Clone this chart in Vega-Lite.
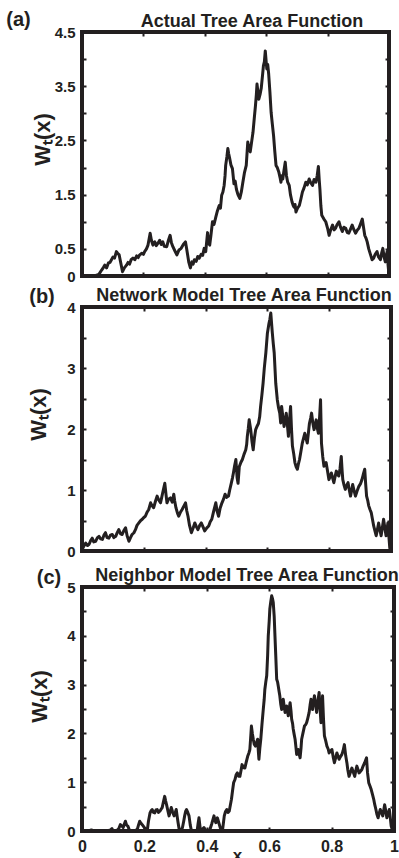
{
  "$schema": "https://vega.github.io/schema/vega-lite/v6.json",
  "autosize": {"type": "none"},
  "padding": {"left": 82, "top": 32, "right": 317, "bottom": 826},
  "background": "white",
  "config": {
    "view": {"stroke": "#231f20", "strokeWidth": 4},
    "line": {"strokeJoin": "round"},
    "axis": {
      "domain": false, "grid": false, "ticks": true, "tickSize": -4, "tickWidth": 2, "tickColor": "#231f20",
      "labelFont": "Liberation Sans", "labelFontWeight": "bold", "labelColor": "#231f20",
      "titleFont": "Liberation Sans", "titleFontWeight": "bold", "titleColor": "#231f20",
      "labelOverlap": false, "labelFlush": false, "labelBound": false
    }
  },
  "datasets": {
    "a": [
      {"x":0,"y":0},{"x":0.02,"y":0.01},{"x":0.04,"y":0},{"x":0.055,"y":0.03},{"x":0.064,"y":0.11},{"x":0.07,"y":0.16},{"x":0.074,"y":0.2},{"x":0.08,"y":0.15},{"x":0.086,"y":0.24},{"x":0.091,"y":0.25},{"x":0.096,"y":0.3},{"x":0.101,"y":0.35},{"x":0.106,"y":0.33},{"x":0.112,"y":0.45},{"x":0.116,"y":0.42},{"x":0.121,"y":0.39},{"x":0.126,"y":0.25},{"x":0.132,"y":0.08},{"x":0.138,"y":0.15},{"x":0.145,"y":0.2},{"x":0.15,"y":0.25},{"x":0.155,"y":0.22},{"x":0.16,"y":0.3},{"x":0.166,"y":0.33},{"x":0.172,"y":0.3},{"x":0.178,"y":0.37},{"x":0.183,"y":0.34},{"x":0.188,"y":0.39},{"x":0.195,"y":0.42},{"x":0.2,"y":0.4},{"x":0.204,"y":0.45},{"x":0.21,"y":0.5},{"x":0.215,"y":0.57},{"x":0.222,"y":0.79},{"x":0.226,"y":0.66},{"x":0.231,"y":0.57},{"x":0.237,"y":0.63},{"x":0.242,"y":0.56},{"x":0.247,"y":0.6},{"x":0.253,"y":0.66},{"x":0.258,"y":0.58},{"x":0.263,"y":0.63},{"x":0.268,"y":0.55},{"x":0.276,"y":0.54},{"x":0.281,"y":0.65},{"x":0.287,"y":0.75},{"x":0.291,"y":0.62},{"x":0.296,"y":0.54},{"x":0.302,"y":0.47},{"x":0.309,"y":0.39},{"x":0.316,"y":0.48},{"x":0.323,"y":0.51},{"x":0.33,"y":0.58},{"x":0.337,"y":0.63},{"x":0.341,"y":0.5},{"x":0.344,"y":0.39},{"x":0.348,"y":0.25},{"x":0.353,"y":0.15},{"x":0.358,"y":0.26},{"x":0.362,"y":0.22},{"x":0.366,"y":0.3},{"x":0.372,"y":0.27},{"x":0.377,"y":0.36},{"x":0.382,"y":0.33},{"x":0.388,"y":0.4},{"x":0.393,"y":0.38},{"x":0.398,"y":0.51},{"x":0.403,"y":0.45},{"x":0.409,"y":0.8},{"x":0.413,"y":0.6},{"x":0.416,"y":0.57},{"x":0.42,"y":0.75},{"x":0.425,"y":1.0},{"x":0.43,"y":0.95},{"x":0.436,"y":1.09},{"x":0.441,"y":1.2},{"x":0.447,"y":1.3},{"x":0.451,"y":1.25},{"x":0.455,"y":1.49},{"x":0.459,"y":1.55},{"x":0.463,"y":1.67},{"x":0.466,"y":1.85},{"x":0.468,"y":2.04},{"x":0.472,"y":2.2},{"x":0.475,"y":2.35},{"x":0.478,"y":2.25},{"x":0.481,"y":2.17},{"x":0.485,"y":2.05},{"x":0.49,"y":1.98},{"x":0.495,"y":1.7},{"x":0.499,"y":1.75},{"x":0.503,"y":1.6},{"x":0.508,"y":1.5},{"x":0.514,"y":1.43},{"x":0.519,"y":1.55},{"x":0.524,"y":1.73},{"x":0.529,"y":1.9},{"x":0.535,"y":2.04},{"x":0.538,"y":2.3},{"x":0.54,"y":2.47},{"x":0.544,"y":2.35},{"x":0.548,"y":2.29},{"x":0.552,"y":2.45},{"x":0.557,"y":2.65},{"x":0.561,"y":2.9},{"x":0.565,"y":3.14},{"x":0.568,"y":3.35},{"x":0.57,"y":3.54},{"x":0.573,"y":3.4},{"x":0.576,"y":3.26},{"x":0.58,"y":3.35},{"x":0.584,"y":3.47},{"x":0.588,"y":3.7},{"x":0.591,"y":3.88},{"x":0.594,"y":3.95},{"x":0.597,"y":4.15},{"x":0.6,"y":3.95},{"x":0.602,"y":3.82},{"x":0.605,"y":3.9},{"x":0.608,"y":3.73},{"x":0.612,"y":3.4},{"x":0.616,"y":3.02},{"x":0.62,"y":2.8},{"x":0.624,"y":2.59},{"x":0.628,"y":2.3},{"x":0.632,"y":2.04},{"x":0.636,"y":2.0},{"x":0.641,"y":1.92},{"x":0.645,"y":1.82},{"x":0.648,"y":1.73},{"x":0.651,"y":1.85},{"x":0.654,"y":1.79},{"x":0.658,"y":1.95},{"x":0.662,"y":2.1},{"x":0.666,"y":1.85},{"x":0.67,"y":1.73},{"x":0.675,"y":1.67},{"x":0.679,"y":1.5},{"x":0.684,"y":1.37},{"x":0.688,"y":1.3},{"x":0.691,"y":1.27},{"x":0.694,"y":1.32},{"x":0.697,"y":1.18},{"x":0.702,"y":1.25},{"x":0.708,"y":1.3},{"x":0.713,"y":1.42},{"x":0.718,"y":1.55},{"x":0.723,"y":1.62},{"x":0.729,"y":1.73},{"x":0.734,"y":1.68},{"x":0.74,"y":1.79},{"x":0.745,"y":1.72},{"x":0.751,"y":1.67},{"x":0.756,"y":1.78},{"x":0.762,"y":1.73},{"x":0.766,"y":1.85},{"x":0.77,"y":2.02},{"x":0.773,"y":1.75},{"x":0.775,"y":1.6},{"x":0.778,"y":1.3},{"x":0.781,"y":1.12},{"x":0.788,"y":1.05},{"x":0.794,"y":1.0},{"x":0.8,"y":0.88},{"x":0.805,"y":0.75},{"x":0.81,"y":0.85},{"x":0.816,"y":0.94},{"x":0.821,"y":0.85},{"x":0.826,"y":0.88},{"x":0.831,"y":0.95},{"x":0.837,"y":1.0},{"x":0.842,"y":0.9},{"x":0.848,"y":0.82},{"x":0.853,"y":0.9},{"x":0.859,"y":0.88},{"x":0.864,"y":0.8},{"x":0.869,"y":0.79},{"x":0.875,"y":0.87},{"x":0.88,"y":0.94},{"x":0.886,"y":0.85},{"x":0.891,"y":0.79},{"x":0.897,"y":0.85},{"x":0.902,"y":0.88},{"x":0.908,"y":0.97},{"x":0.913,"y":1.05},{"x":0.917,"y":0.9},{"x":0.921,"y":0.75},{"x":0.925,"y":0.7},{"x":0.929,"y":0.63},{"x":0.934,"y":0.5},{"x":0.94,"y":0.39},{"x":0.945,"y":0.3},{"x":0.95,"y":0.33},{"x":0.955,"y":0.4},{"x":0.961,"y":0.45},{"x":0.966,"y":0.35},{"x":0.972,"y":0.3},{"x":0.976,"y":0.42},{"x":0.98,"y":0.51},{"x":0.984,"y":0.35},{"x":0.988,"y":0.26},{"x":0.991,"y":0.38},{"x":0.994,"y":0.45},{"x":0.997,"y":0.2},{"x":1.0,"y":0.02}
    ],
    "b": [
      {"x":0,"y":0.02},{"x":0.006,"y":0.08},{"x":0.012,"y":0.13},{"x":0.018,"y":0.09},{"x":0.023,"y":0.11},{"x":0.028,"y":0.17},{"x":0.033,"y":0.21},{"x":0.038,"y":0.15},{"x":0.044,"y":0.16},{"x":0.05,"y":0.22},{"x":0.055,"y":0.24},{"x":0.06,"y":0.2},{"x":0.066,"y":0.19},{"x":0.071,"y":0.26},{"x":0.076,"y":0.3},{"x":0.081,"y":0.22},{"x":0.087,"y":0.21},{"x":0.092,"y":0.26},{"x":0.098,"y":0.27},{"x":0.103,"y":0.22},{"x":0.109,"y":0.24},{"x":0.114,"y":0.3},{"x":0.119,"y":0.35},{"x":0.125,"y":0.28},{"x":0.13,"y":0.27},{"x":0.135,"y":0.33},{"x":0.141,"y":0.38},{"x":0.146,"y":0.25},{"x":0.152,"y":0.16},{"x":0.157,"y":0.22},{"x":0.162,"y":0.27},{"x":0.168,"y":0.3},{"x":0.173,"y":0.35},{"x":0.178,"y":0.42},{"x":0.184,"y":0.46},{"x":0.19,"y":0.5},{"x":0.195,"y":0.52},{"x":0.2,"y":0.55},{"x":0.205,"y":0.57},{"x":0.21,"y":0.63},{"x":0.216,"y":0.68},{"x":0.222,"y":0.79},{"x":0.227,"y":0.74},{"x":0.232,"y":0.71},{"x":0.238,"y":0.82},{"x":0.243,"y":0.9},{"x":0.248,"y":0.84},{"x":0.254,"y":0.79},{"x":0.258,"y":0.88},{"x":0.261,"y":0.95},{"x":0.268,"y":1.11},{"x":0.272,"y":0.92},{"x":0.275,"y":0.79},{"x":0.28,"y":0.85},{"x":0.286,"y":0.87},{"x":0.292,"y":0.8},{"x":0.297,"y":0.93},{"x":0.3,"y":0.82},{"x":0.304,"y":0.71},{"x":0.309,"y":0.62},{"x":0.313,"y":0.57},{"x":0.318,"y":0.63},{"x":0.324,"y":0.68},{"x":0.33,"y":0.74},{"x":0.335,"y":0.79},{"x":0.339,"y":0.66},{"x":0.343,"y":0.57},{"x":0.348,"y":0.42},{"x":0.354,"y":0.3},{"x":0.36,"y":0.38},{"x":0.365,"y":0.46},{"x":0.37,"y":0.4},{"x":0.375,"y":0.35},{"x":0.381,"y":0.42},{"x":0.386,"y":0.46},{"x":0.392,"y":0.39},{"x":0.397,"y":0.33},{"x":0.404,"y":0.38},{"x":0.41,"y":0.41},{"x":0.415,"y":0.48},{"x":0.42,"y":0.52},{"x":0.426,"y":0.65},{"x":0.433,"y":0.79},{"x":0.437,"y":0.66},{"x":0.442,"y":0.57},{"x":0.447,"y":0.7},{"x":0.453,"y":0.79},{"x":0.458,"y":0.85},{"x":0.463,"y":0.93},{"x":0.468,"y":0.88},{"x":0.474,"y":0.9},{"x":0.478,"y":1.0},{"x":0.483,"y":1.11},{"x":0.487,"y":1.2},{"x":0.49,"y":1.28},{"x":0.494,"y":1.4},{"x":0.498,"y":1.5},{"x":0.502,"y":1.2},{"x":0.505,"y":1.11},{"x":0.509,"y":1.38},{"x":0.514,"y":1.45},{"x":0.519,"y":1.5},{"x":0.524,"y":1.58},{"x":0.53,"y":1.66},{"x":0.533,"y":1.75},{"x":0.535,"y":1.88},{"x":0.538,"y":2.0},{"x":0.541,"y":2.15},{"x":0.546,"y":1.99},{"x":0.55,"y":1.8},{"x":0.554,"y":1.66},{"x":0.558,"y":1.85},{"x":0.562,"y":1.99},{"x":0.567,"y":2.05},{"x":0.571,"y":2.09},{"x":0.575,"y":2.2},{"x":0.578,"y":2.37},{"x":0.582,"y":2.55},{"x":0.586,"y":2.75},{"x":0.59,"y":3.0},{"x":0.595,"y":3.25},{"x":0.6,"y":3.57},{"x":0.605,"y":3.73},{"x":0.608,"y":3.8},{"x":0.611,"y":3.9},{"x":0.614,"y":3.7},{"x":0.616,"y":3.57},{"x":0.619,"y":3.4},{"x":0.622,"y":3.25},{"x":0.625,"y":2.95},{"x":0.627,"y":2.75},{"x":0.632,"y":2.48},{"x":0.636,"y":2.35},{"x":0.64,"y":2.26},{"x":0.643,"y":2.1},{"x":0.646,"y":2.37},{"x":0.65,"y":2.2},{"x":0.654,"y":2.04},{"x":0.658,"y":2.15},{"x":0.661,"y":2.26},{"x":0.665,"y":2.05},{"x":0.668,"y":1.88},{"x":0.671,"y":2.1},{"x":0.675,"y":2.37},{"x":0.678,"y":2.0},{"x":0.681,"y":1.72},{"x":0.685,"y":1.6},{"x":0.689,"y":1.45},{"x":0.693,"y":1.38},{"x":0.697,"y":1.34},{"x":0.7,"y":1.42},{"x":0.704,"y":1.5},{"x":0.708,"y":1.62},{"x":0.713,"y":1.77},{"x":0.717,"y":1.85},{"x":0.721,"y":1.93},{"x":0.725,"y":1.85},{"x":0.729,"y":1.77},{"x":0.733,"y":1.95},{"x":0.736,"y":2.09},{"x":0.74,"y":2.18},{"x":0.743,"y":2.26},{"x":0.747,"y":2.1},{"x":0.751,"y":1.99},{"x":0.755,"y":2.08},{"x":0.758,"y":2.15},{"x":0.762,"y":2.0},{"x":0.765,"y":1.93},{"x":0.769,"y":2.2},{"x":0.772,"y":2.48},{"x":0.775,"y":1.77},{"x":0.779,"y":1.55},{"x":0.783,"y":1.39},{"x":0.787,"y":1.42},{"x":0.79,"y":1.45},{"x":0.795,"y":1.3},{"x":0.799,"y":1.17},{"x":0.803,"y":1.22},{"x":0.807,"y":1.28},{"x":0.811,"y":1.2},{"x":0.815,"y":1.12},{"x":0.819,"y":1.22},{"x":0.823,"y":1.31},{"x":0.827,"y":1.25},{"x":0.831,"y":1.23},{"x":0.835,"y":1.35},{"x":0.839,"y":1.55},{"x":0.842,"y":1.3},{"x":0.844,"y":1.17},{"x":0.848,"y":1.08},{"x":0.852,"y":1.01},{"x":0.857,"y":1.08},{"x":0.861,"y":1.12},{"x":0.865,"y":1.0},{"x":0.869,"y":0.9},{"x":0.873,"y":1.0},{"x":0.876,"y":1.09},{"x":0.881,"y":0.98},{"x":0.885,"y":0.9},{"x":0.89,"y":0.98},{"x":0.896,"y":1.06},{"x":0.901,"y":1.1},{"x":0.906,"y":1.17},{"x":0.91,"y":1.25},{"x":0.915,"y":1.34},{"x":0.918,"y":1.1},{"x":0.921,"y":0.9},{"x":0.925,"y":0.82},{"x":0.928,"y":0.74},{"x":0.932,"y":0.68},{"x":0.936,"y":0.63},{"x":0.94,"y":0.52},{"x":0.944,"y":0.41},{"x":0.948,"y":0.33},{"x":0.952,"y":0.25},{"x":0.956,"y":0.35},{"x":0.96,"y":0.46},{"x":0.964,"y":0.35},{"x":0.968,"y":0.25},{"x":0.972,"y":0.38},{"x":0.976,"y":0.52},{"x":0.98,"y":0.38},{"x":0.984,"y":0.25},{"x":0.987,"y":0.35},{"x":0.99,"y":0.46},{"x":0.993,"y":0.25},{"x":0.996,"y":0.05},{"x":1.0,"y":0.0}
    ],
    "c": [
      {"x":0,"y":0},{"x":0.02,"y":0},{"x":0.03,"y":0.02},{"x":0.04,"y":0},{"x":0.06,"y":0},{"x":0.08,"y":0},{"x":0.091,"y":0.02},{"x":0.096,"y":0.05},{"x":0.1,"y":0},{"x":0.11,"y":0},{"x":0.118,"y":0.05},{"x":0.123,"y":0.13},{"x":0.128,"y":0.1},{"x":0.132,"y":0.07},{"x":0.136,"y":0.15},{"x":0.139,"y":0.2},{"x":0.143,"y":0.12},{"x":0.147,"y":0.1},{"x":0.15,"y":0.05},{"x":0.153,"y":0},{"x":0.166,"y":0},{"x":0.177,"y":0.03},{"x":0.181,"y":0.12},{"x":0.185,"y":0.2},{"x":0.189,"y":0.16},{"x":0.193,"y":0.13},{"x":0.2,"y":0.07},{"x":0.205,"y":0.02},{"x":0.209,"y":0},{"x":0.213,"y":0.2},{"x":0.218,"y":0.37},{"x":0.222,"y":0.42},{"x":0.225,"y":0.44},{"x":0.229,"y":0.38},{"x":0.233,"y":0.37},{"x":0.237,"y":0.43},{"x":0.241,"y":0.44},{"x":0.245,"y":0.38},{"x":0.25,"y":0.41},{"x":0.254,"y":0.45},{"x":0.257,"y":0.48},{"x":0.261,"y":0.6},{"x":0.265,"y":0.71},{"x":0.268,"y":0.62},{"x":0.271,"y":0.54},{"x":0.275,"y":0.42},{"x":0.279,"y":0.31},{"x":0.283,"y":0.4},{"x":0.286,"y":0.48},{"x":0.29,"y":0.4},{"x":0.295,"y":0.31},{"x":0.299,"y":0.38},{"x":0.302,"y":0.44},{"x":0.305,"y":0.3},{"x":0.308,"y":0.17},{"x":0.311,"y":0.05},{"x":0.314,"y":0},{"x":0.318,"y":0.02},{"x":0.322,"y":0.07},{"x":0.326,"y":0.2},{"x":0.329,"y":0.31},{"x":0.332,"y":0.4},{"x":0.335,"y":0.44},{"x":0.339,"y":0.38},{"x":0.343,"y":0.31},{"x":0.347,"y":0.12},{"x":0.35,"y":0.03},{"x":0.354,"y":0},{"x":0.369,"y":0},{"x":0.372,"y":0.15},{"x":0.375,"y":0.27},{"x":0.378,"y":0.1},{"x":0.38,"y":0},{"x":0.385,"y":0.03},{"x":0.391,"y":0.07},{"x":0.396,"y":0.02},{"x":0.402,"y":0},{"x":0.41,"y":0.03},{"x":0.416,"y":0.15},{"x":0.423,"y":0.31},{"x":0.426,"y":0.22},{"x":0.429,"y":0.17},{"x":0.434,"y":0.27},{"x":0.438,"y":0.18},{"x":0.443,"y":0.07},{"x":0.45,"y":0},{"x":0.453,"y":0.15},{"x":0.456,"y":0.31},{"x":0.46,"y":0.4},{"x":0.464,"y":0.44},{"x":0.468,"y":0.38},{"x":0.472,"y":0.41},{"x":0.476,"y":0.55},{"x":0.479,"y":0.65},{"x":0.483,"y":0.85},{"x":0.486,"y":0.99},{"x":0.49,"y":1.05},{"x":0.494,"y":1.15},{"x":0.498,"y":1.19},{"x":0.502,"y":1.12},{"x":0.506,"y":1.12},{"x":0.51,"y":1.25},{"x":0.513,"y":1.36},{"x":0.517,"y":1.3},{"x":0.522,"y":1.29},{"x":0.526,"y":1.4},{"x":0.531,"y":1.53},{"x":0.535,"y":1.6},{"x":0.538,"y":1.67},{"x":0.541,"y":1.95},{"x":0.543,"y":2.15},{"x":0.546,"y":2.0},{"x":0.549,"y":1.88},{"x":0.552,"y":1.78},{"x":0.556,"y":1.74},{"x":0.56,"y":1.82},{"x":0.563,"y":1.88},{"x":0.565,"y":1.65},{"x":0.567,"y":1.47},{"x":0.57,"y":1.7},{"x":0.573,"y":1.88},{"x":0.577,"y":2.2},{"x":0.581,"y":2.49},{"x":0.584,"y":2.7},{"x":0.586,"y":2.9},{"x":0.589,"y":3.05},{"x":0.592,"y":3.18},{"x":0.595,"y":3.6},{"x":0.597,"y":4.0},{"x":0.6,"y":4.3},{"x":0.602,"y":4.55},{"x":0.605,"y":4.7},{"x":0.608,"y":4.82},{"x":0.611,"y":4.75},{"x":0.613,"y":4.68},{"x":0.616,"y":4.4},{"x":0.618,"y":4.07},{"x":0.621,"y":3.6},{"x":0.624,"y":3.11},{"x":0.627,"y":3.05},{"x":0.629,"y":2.97},{"x":0.632,"y":2.85},{"x":0.634,"y":2.77},{"x":0.637,"y":2.6},{"x":0.64,"y":2.49},{"x":0.643,"y":2.62},{"x":0.645,"y":2.7},{"x":0.648,"y":2.55},{"x":0.651,"y":2.43},{"x":0.654,"y":2.5},{"x":0.656,"y":2.56},{"x":0.659,"y":2.45},{"x":0.661,"y":2.36},{"x":0.664,"y":2.5},{"x":0.667,"y":2.63},{"x":0.67,"y":2.45},{"x":0.672,"y":2.29},{"x":0.675,"y":2.2},{"x":0.677,"y":2.09},{"x":0.68,"y":1.98},{"x":0.683,"y":1.88},{"x":0.686,"y":1.7},{"x":0.688,"y":1.57},{"x":0.691,"y":1.62},{"x":0.693,"y":1.67},{"x":0.696,"y":1.58},{"x":0.699,"y":1.5},{"x":0.702,"y":1.7},{"x":0.704,"y":1.88},{"x":0.708,"y":2.0},{"x":0.713,"y":2.15},{"x":0.717,"y":2.18},{"x":0.72,"y":2.22},{"x":0.724,"y":2.32},{"x":0.728,"y":2.43},{"x":0.731,"y":2.58},{"x":0.734,"y":2.7},{"x":0.737,"y":2.6},{"x":0.739,"y":2.49},{"x":0.742,"y":2.65},{"x":0.745,"y":2.77},{"x":0.749,"y":2.6},{"x":0.752,"y":2.43},{"x":0.756,"y":2.65},{"x":0.76,"y":2.84},{"x":0.763,"y":2.5},{"x":0.766,"y":2.22},{"x":0.769,"y":2.5},{"x":0.771,"y":2.77},{"x":0.774,"y":2.3},{"x":0.777,"y":1.95},{"x":0.781,"y":1.85},{"x":0.785,"y":1.74},{"x":0.789,"y":1.68},{"x":0.792,"y":1.6},{"x":0.797,"y":1.64},{"x":0.801,"y":1.67},{"x":0.805,"y":1.52},{"x":0.809,"y":1.4},{"x":0.813,"y":1.5},{"x":0.817,"y":1.6},{"x":0.821,"y":1.52},{"x":0.824,"y":1.47},{"x":0.828,"y":1.52},{"x":0.833,"y":1.57},{"x":0.837,"y":1.65},{"x":0.841,"y":1.77},{"x":0.845,"y":1.55},{"x":0.849,"y":1.4},{"x":0.852,"y":1.25},{"x":0.856,"y":1.12},{"x":0.86,"y":1.2},{"x":0.865,"y":1.29},{"x":0.87,"y":1.2},{"x":0.874,"y":1.12},{"x":0.877,"y":1.22},{"x":0.881,"y":1.33},{"x":0.885,"y":1.25},{"x":0.888,"y":1.19},{"x":0.892,"y":1.22},{"x":0.897,"y":1.26},{"x":0.901,"y":1.33},{"x":0.906,"y":1.4},{"x":0.909,"y":1.45},{"x":0.912,"y":1.5},{"x":0.915,"y":1.2},{"x":0.919,"y":0.99},{"x":0.923,"y":0.92},{"x":0.927,"y":0.85},{"x":0.931,"y":0.75},{"x":0.935,"y":0.65},{"x":0.938,"y":0.55},{"x":0.942,"y":0.44},{"x":0.945,"y":0.35},{"x":0.949,"y":0.27},{"x":0.952,"y":0.35},{"x":0.956,"y":0.44},{"x":0.96,"y":0.38},{"x":0.964,"y":0.31},{"x":0.967,"y":0.42},{"x":0.97,"y":0.54},{"x":0.974,"y":0.4},{"x":0.977,"y":0.27},{"x":0.981,"y":0.35},{"x":0.985,"y":0.44},{"x":0.988,"y":0.28},{"x":0.991,"y":0.1},{"x":0.995,"y":0.02},{"x":1.0,"y":0}
    ]
  },
  "bounds": "flush",
  "spacing": 31,
  "vconcat": [
    {
      "width": 307, "height": 244,
      "data": {"name": "a"},
      "layer": [
        {
          "mark": {"type": "line", "color": "#231f20", "strokeWidth": 3},
          "encoding": {
            "x": {"field": "x", "type": "quantitative", "scale": {"domain": [0, 1], "nice": false},
                  "axis": {"orient": "bottom", "values": [0, 0.2, 0.4, 0.6, 0.8, 1], "labels": false, "title": null}},
            "y": {"field": "y", "type": "quantitative", "scale": {"domain": [0, 4.5], "nice": false},
                  "axis": {"orient": "left", "values": [0, 0.5, 1, 1.5, 2, 2.5, 3, 3.5, 4, 4.5],
                           "labelExpr": "datum.value == 0 || datum.value % 1 == 0.5 ? format(datum.value, '~g') : ''",
                           "labelFontSize": 15, "labelPadding": 11,
                           "title": "Wₜ(x)", "titleFontSize": 22, "titleX": -40, "titleY": 107, "titleAngle": 270, "titleAlign": "center", "titleBaseline": "middle"}}
          }
        },
        {
          "mark": {"type": "line", "opacity": 0},
          "encoding": {
            "x": {"field": "x", "type": "quantitative",
                  "axis": {"orient": "top", "values": [0, 0.2, 0.4, 0.6, 0.8, 1], "labels": false,
                           "title": "Actual Tree Area Function", "titleFontSize": 18, "titleX": 169.5, "titleY": -5.5, "titleAngle": 0, "titleAlign": "center", "titleBaseline": "alphabetic"}},
            "y": {"field": "y", "type": "quantitative",
                  "axis": {"orient": "right", "values": [0, 0.5, 1, 1.5, 2, 2.5, 3, 3.5, 4, 4.5], "labels": false,
                           "title": "(a)", "titleFontSize": 20, "titleX": -371, "titleY": -7, "titleAngle": 0, "titleAlign": "center", "titleBaseline": "alphabetic"}}
          }
        }
      ],
      "resolve": {"axis": {"x": "independent", "y": "independent"}}
    },
    {
      "bounds": "flush",
      "spacing": 36,
      "vconcat": [
        {
          "width": 309, "height": 244,
          "data": {"name": "b"},
          "layer": [
            {
              "mark": {"type": "line", "color": "#231f20", "strokeWidth": 3},
              "encoding": {
                "x": {"field": "x", "type": "quantitative", "scale": {"domain": [0, 1], "nice": false},
                      "axis": {"orient": "bottom", "values": [0, 0.2, 0.4, 0.6, 0.8, 1], "labels": false, "title": null}},
                "y": {"field": "y", "type": "quantitative", "scale": {"domain": [0, 4], "nice": false},
                      "axis": {"orient": "left", "values": [0, 0.5, 1, 1.5, 2, 2.5, 3, 3.5, 4],
                               "labelExpr": "datum.value % 1 == 0 ? format(datum.value, '~g') : ''",
                               "labelFontSize": 15, "labelPadding": 11,
                               "title": "Wₜ(x)", "titleFontSize": 22, "titleX": -43.5, "titleY": 107, "titleAngle": 270, "titleAlign": "center", "titleBaseline": "middle"}}
              }
            },
            {
              "mark": {"type": "line", "opacity": 0},
              "encoding": {
                "x": {"field": "x", "type": "quantitative",
                      "axis": {"orient": "top", "values": [0, 0.2, 0.4, 0.6, 0.8, 1], "labels": false,
                               "title": "Network Model Tree Area Function", "titleFontSize": 18, "titleX": 161.5, "titleY": -6.3, "titleAngle": 0, "titleAlign": "center", "titleBaseline": "alphabetic"}},
                "y": {"field": "y", "type": "quantitative",
                      "axis": {"orient": "right", "values": [0, 0.5, 1, 1.5, 2, 2.5, 3, 3.5, 4], "labels": false,
                               "title": "(b)", "titleFontSize": 20, "titleX": -349.5, "titleY": -4.3, "titleAngle": 0, "titleAlign": "center", "titleBaseline": "alphabetic"}}
              }
            }
          ],
          "resolve": {"axis": {"x": "independent", "y": "independent"}}
        },
        {
          "width": 312, "height": 244,
          "data": {"name": "c"},
          "layer": [
            {
              "mark": {"type": "line", "color": "#231f20", "strokeWidth": 3},
              "encoding": {
                "x": {"field": "x", "type": "quantitative", "scale": {"domain": [0, 1], "nice": false},
                      "axis": {"orient": "bottom", "values": [0, 0.2, 0.4, 0.6, 0.8, 1], "format": "~g",
                               "labelFontSize": 16, "labelPadding": 11, "labelBaseline": "top",
                               "title": "x", "titleFontSize": 17, "titleX": 155, "titleY": 29, "titleAngle": 0, "titleAlign": "center", "titleBaseline": "alphabetic"}},
                "y": {"field": "y", "type": "quantitative", "scale": {"domain": [0, 5], "nice": false},
                      "axis": {"orient": "left", "values": [0, 0.5, 1, 1.5, 2, 2.5, 3, 3.5, 4, 4.5, 5],
                               "labelExpr": "datum.value % 1 == 0 ? format(datum.value, '~g') : ''",
                               "labelFontSize": 15, "labelPadding": 11,
                               "title": "Wₜ(x)", "titleFontSize": 22, "titleX": -43, "titleY": 109, "titleAngle": 270, "titleAlign": "center", "titleBaseline": "middle"}}
              }
            },
            {
              "mark": {"type": "line", "opacity": 0},
              "encoding": {
                "x": {"field": "x", "type": "quantitative",
                      "axis": {"orient": "top", "values": [0, 0.2, 0.4, 0.6, 0.8, 1], "labels": false,
                               "title": "Neighbor Model Tree Area Function", "titleFontSize": 18, "titleX": 164.5, "titleY": -6.3, "titleAngle": 0, "titleAlign": "center", "titleBaseline": "alphabetic"}},
                "y": {"field": "y", "type": "quantitative",
                      "axis": {"orient": "right", "values": [0, 0.5, 1, 1.5, 2, 2.5, 3, 3.5, 4, 4.5, 5], "labels": false,
                               "title": "(c)", "titleFontSize": 20, "titleX": -345.5, "titleY": -3.7, "titleAngle": 0, "titleAlign": "center", "titleBaseline": "alphabetic"}}
              }
            }
          ],
          "resolve": {"axis": {"x": "independent", "y": "independent"}}
        }
      ]
    }
  ]
}
